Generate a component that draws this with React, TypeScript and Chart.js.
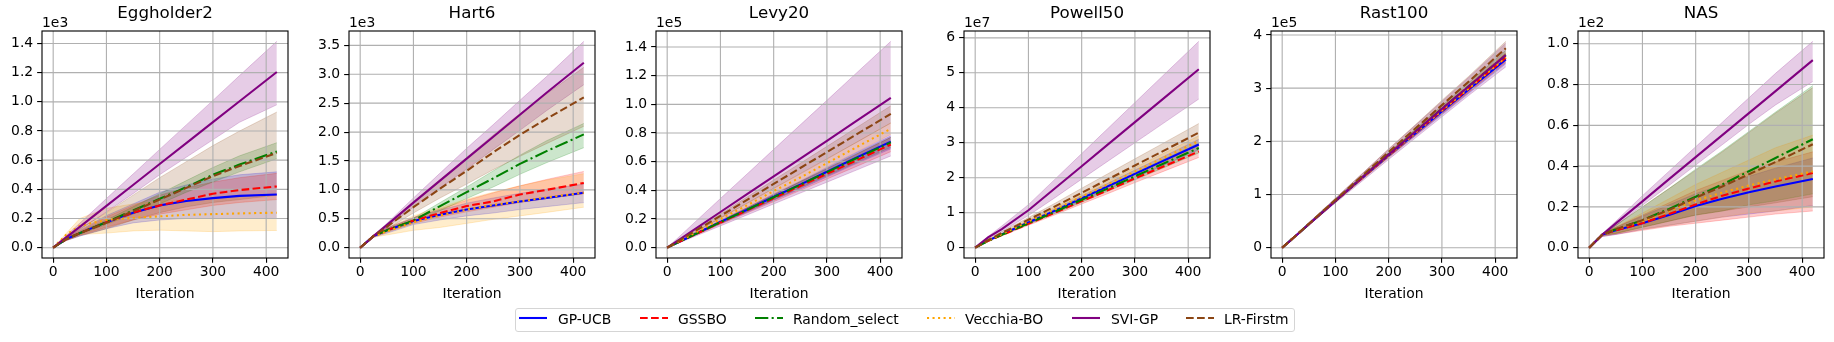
import React, { useEffect, useRef } from "react";
import { Chart, registerables } from "chart.js";

Chart.register(...registerables);

const FONT_FAMILY = "'DejaVu Sans', 'Liberation Sans', sans-serif";

// ---------------- data ----------------
const iterations = [0, 25, 50, 100, 150, 200, 250, 300, 350, 420];
const methodNames = ["GP-UCB", "GSSBO", "Random_select", "Vecchia-BO", "SVI-GP", "LR-Firstm"];
const xTickValues = [0, 100, 200, 300, 400];
const xTickLabels = ["0", "100", "200", "300", "400"];

// Eggholder2 (x1e3), rows in methodNames order
const eggholderTicks = [0, 0.2, 0.4, 0.6, 0.8, 1.0, 1.2, 1.4];
const eggholderTickLabels = ["0.0", "0.2", "0.4", "0.6", "0.8", "1.0", "1.2", "1.4"];
const eggholderMean = [
  [0, 0.06, 0.1, 0.175, 0.24, 0.29, 0.32, 0.34, 0.355, 0.365],
  [0, 0.06, 0.1, 0.175, 0.24, 0.29, 0.33, 0.37, 0.395, 0.42],
  [0, 0.06, 0.1, 0.175, 0.255, 0.335, 0.415, 0.5, 0.57, 0.66],
  [0, 0.09, 0.15, 0.19, 0.205, 0.215, 0.225, 0.23, 0.235, 0.24],
  [0, 0.072, 0.143, 0.287, 0.43, 0.574, 0.717, 0.861, 1.004, 1.205],
  [0, 0.06, 0.1, 0.17, 0.25, 0.33, 0.41, 0.49, 0.56, 0.65],
];
const eggholderLower = [
  [0, 0.05, 0.08, 0.13, 0.17, 0.19, 0.2, 0.2, 0.2, 0.2],
  [0, 0.05, 0.085, 0.14, 0.19, 0.23, 0.26, 0.29, 0.31, 0.33],
  [0, 0.055, 0.09, 0.16, 0.23, 0.3, 0.38, 0.45, 0.52, 0.61],
  [0, 0.05, 0.09, 0.1, 0.115, 0.12, 0.115, 0.11, 0.115, 0.118],
  [0, 0.065, 0.125, 0.245, 0.37, 0.5, 0.62, 0.74, 0.86, 0.98],
  [0, 0.05, 0.08, 0.13, 0.19, 0.24, 0.28, 0.31, 0.33, 0.36],
];
const eggholderUpper = [
  [0, 0.07, 0.12, 0.22, 0.3, 0.38, 0.43, 0.47, 0.5, 0.52],
  [0, 0.07, 0.115, 0.21, 0.29, 0.36, 0.41, 0.45, 0.48, 0.51],
  [0, 0.065, 0.11, 0.19, 0.28, 0.37, 0.46, 0.55, 0.63, 0.72],
  [0, 0.1, 0.2, 0.27, 0.3, 0.32, 0.33, 0.34, 0.35, 0.36],
  [0, 0.085, 0.168, 0.337, 0.505, 0.674, 0.842, 1.01, 1.18, 1.415],
  [0, 0.07, 0.13, 0.24, 0.36, 0.48, 0.59, 0.7, 0.8, 0.93],
];

// Hart6 (x1e3)
const hartTicks = [0, 0.5, 1.0, 1.5, 2.0, 2.5, 3.0, 3.5];
const hartTickLabels = ["0.0", "0.5", "1.0", "1.5", "2.0", "2.5", "3.0", "3.5"];
const hartMean = [
  [0, 0.2, 0.3, 0.46, 0.57, 0.66, 0.73, 0.8, 0.86, 0.95],
  [0, 0.2, 0.3, 0.47, 0.6, 0.72, 0.8, 0.92, 1.0, 1.12],
  [0, 0.2, 0.3, 0.47, 0.72, 0.96, 1.2, 1.45, 1.67, 1.96],
  [0, 0.2, 0.28, 0.44, 0.56, 0.66, 0.74, 0.8, 0.87, 0.95],
  [0, 0.2, 0.39, 0.78, 1.16, 1.54, 1.92, 2.3, 2.68, 3.2],
  [0, 0.2, 0.36, 0.7, 1.02, 1.33, 1.65, 1.95, 2.23, 2.6],
];
const hartLower = [
  [0, 0.18, 0.25, 0.4, 0.48, 0.55, 0.6, 0.66, 0.71, 0.78],
  [0, 0.18, 0.27, 0.42, 0.53, 0.62, 0.7, 0.78, 0.85, 0.93],
  [0, 0.19, 0.28, 0.43, 0.64, 0.85, 1.05, 1.27, 1.47, 1.73],
  [0, 0.18, 0.22, 0.3, 0.35, 0.42, 0.49, 0.55, 0.61, 0.7],
  [0, 0.19, 0.35, 0.7, 1.03, 1.36, 1.7, 2.03, 2.37, 2.82],
  [0, 0.19, 0.32, 0.6, 0.86, 1.1, 1.35, 1.58, 1.8, 2.1],
];
const hartUpper = [
  [0, 0.22, 0.34, 0.52, 0.65, 0.77, 0.86, 0.94, 1.01, 1.1],
  [0, 0.22, 0.33, 0.52, 0.67, 0.82, 0.95, 1.07, 1.18, 1.32],
  [0, 0.21, 0.32, 0.51, 0.78, 1.05, 1.33, 1.6, 1.85, 2.15],
  [0, 0.22, 0.34, 0.55, 0.7, 0.84, 0.96, 1.07, 1.17, 1.28],
  [0, 0.21, 0.42, 0.86, 1.29, 1.72, 2.13, 2.55, 2.96, 3.57],
  [0, 0.21, 0.4, 0.8, 1.18, 1.56, 1.95, 2.32, 2.66, 3.12],
];

// Levy20 (x1e5)
const levyTicks = [0, 0.2, 0.4, 0.6, 0.8, 1.0, 1.2, 1.4];
const levyTickLabels = ["0.0", "0.2", "0.4", "0.6", "0.8", "1.0", "1.2", "1.4"];
const levyMean = [
  [0, 0.045, 0.09, 0.18, 0.265, 0.355, 0.44, 0.53, 0.62, 0.74],
  [0, 0.045, 0.088, 0.175, 0.26, 0.345, 0.43, 0.515, 0.6, 0.72],
  [0, 0.045, 0.09, 0.178, 0.265, 0.352, 0.44, 0.527, 0.615, 0.735],
  [0, 0.05, 0.1, 0.2, 0.295, 0.395, 0.49, 0.59, 0.69, 0.83],
  [0, 0.062, 0.124, 0.249, 0.373, 0.498, 0.622, 0.746, 0.871, 1.045],
  [0, 0.055, 0.111, 0.222, 0.333, 0.445, 0.556, 0.667, 0.778, 0.934],
];
const levyLower = [
  [0, 0.042, 0.084, 0.168, 0.247, 0.331, 0.41, 0.494, 0.578, 0.69],
  [0, 0.042, 0.082, 0.163, 0.242, 0.321, 0.4, 0.479, 0.558, 0.67],
  [0, 0.043, 0.086, 0.169, 0.252, 0.335, 0.419, 0.502, 0.585, 0.7],
  [0, 0.048, 0.095, 0.19, 0.281, 0.376, 0.466, 0.562, 0.657, 0.79],
  [0, 0.038, 0.076, 0.152, 0.228, 0.305, 0.381, 0.457, 0.533, 0.64],
  [0, 0.051, 0.103, 0.206, 0.31, 0.414, 0.517, 0.62, 0.724, 0.87],
];
const levyUpper = [
  [0, 0.047, 0.095, 0.19, 0.279, 0.374, 0.464, 0.559, 0.654, 0.78],
  [0, 0.048, 0.094, 0.187, 0.278, 0.369, 0.46, 0.551, 0.642, 0.77],
  [0, 0.047, 0.094, 0.187, 0.278, 0.369, 0.461, 0.552, 0.645, 0.77],
  [0, 0.052, 0.105, 0.21, 0.309, 0.414, 0.514, 0.618, 0.723, 0.87],
  [0, 0.085, 0.171, 0.343, 0.514, 0.686, 0.857, 1.028, 1.2, 1.44],
  [0, 0.058, 0.118, 0.235, 0.353, 0.472, 0.589, 0.707, 0.825, 0.99],
];

// Powell50 (x1e7)
const powellTicks = [0, 1, 2, 3, 4, 5, 6];
const powellTickLabels = ["0", "1", "2", "3", "4", "5", "6"];
const powellMean = [
  [0, 0.21, 0.38, 0.72, 1.06, 1.41, 1.76, 2.11, 2.46, 2.95],
  [0, 0.2, 0.36, 0.68, 1.0, 1.33, 1.65, 1.98, 2.3, 2.75],
  [0, 0.2, 0.37, 0.7, 1.03, 1.37, 1.7, 2.04, 2.38, 2.85],
  [0, 0.21, 0.39, 0.75, 1.1, 1.46, 1.82, 2.18, 2.54, 3.05],
  [0, 0.3, 0.53, 1.07, 1.7, 2.33, 2.96, 3.59, 4.22, 5.1],
  [0, 0.22, 0.42, 0.8, 1.18, 1.57, 1.96, 2.35, 2.74, 3.29],
];
const powellLower = [
  [0, 0.2, 0.36, 0.68, 1.0, 1.34, 1.67, 2.0, 2.33, 2.8],
  [0, 0.19, 0.34, 0.64, 0.94, 1.25, 1.55, 1.86, 2.16, 2.58],
  [0, 0.19, 0.35, 0.67, 0.98, 1.3, 1.62, 1.94, 2.26, 2.71],
  [0, 0.2, 0.37, 0.71, 1.05, 1.39, 1.73, 2.07, 2.41, 2.9],
  [0, 0.27, 0.46, 0.92, 1.43, 1.96, 2.48, 3.0, 3.52, 4.25],
  [0, 0.2, 0.38, 0.72, 1.06, 1.41, 1.76, 2.11, 2.47, 2.96],
];
const powellUpper = [
  [0, 0.22, 0.4, 0.76, 1.11, 1.48, 1.85, 2.22, 2.58, 3.1],
  [0, 0.21, 0.38, 0.72, 1.06, 1.41, 1.75, 2.1, 2.44, 2.92],
  [0, 0.21, 0.39, 0.74, 1.08, 1.44, 1.79, 2.14, 2.5, 2.99],
  [0, 0.22, 0.41, 0.79, 1.16, 1.53, 1.91, 2.29, 2.67, 3.2],
  [0, 0.33, 0.62, 1.23, 1.96, 2.69, 3.42, 4.15, 4.88, 5.9],
  [0, 0.24, 0.45, 0.86, 1.27, 1.7, 2.12, 2.54, 2.96, 3.55],
];

// Rast100 (x1e5)
const rastTicks = [0, 1, 2, 3, 4];
const rastTickLabels = ["0", "1", "2", "3", "4"];
const rastMean = [
  [0, 0.22, 0.44, 0.88, 1.31, 1.74, 2.15, 2.56, 2.97, 3.54],
  [0, 0.22, 0.44, 0.88, 1.31, 1.74, 2.16, 2.58, 2.99, 3.57],
  [0, 0.22, 0.44, 0.88, 1.32, 1.75, 2.18, 2.61, 3.03, 3.62],
  [0, 0.22, 0.44, 0.88, 1.31, 1.74, 2.16, 2.58, 2.99, 3.58],
  [0, 0.22, 0.44, 0.88, 1.32, 1.75, 2.18, 2.61, 3.03, 3.62],
  [0, 0.22, 0.45, 0.9, 1.35, 1.8, 2.24, 2.68, 3.12, 3.75],
];
const rastLower = [
  [0, 0.21, 0.43, 0.86, 1.28, 1.7, 2.1, 2.5, 2.9, 3.46],
  [0, 0.21, 0.43, 0.86, 1.28, 1.7, 2.11, 2.52, 2.92, 3.48],
  [0, 0.21, 0.43, 0.86, 1.29, 1.71, 2.13, 2.55, 2.96, 3.53],
  [0, 0.21, 0.43, 0.86, 1.28, 1.7, 2.11, 2.52, 2.92, 3.5],
  [0, 0.21, 0.42, 0.84, 1.25, 1.66, 2.06, 2.46, 2.86, 3.4],
  [0, 0.21, 0.43, 0.87, 1.31, 1.75, 2.18, 2.61, 3.04, 3.64],
];
const rastUpper = [
  [0, 0.23, 0.45, 0.9, 1.34, 1.78, 2.2, 2.62, 3.04, 3.62],
  [0, 0.23, 0.45, 0.9, 1.34, 1.78, 2.21, 2.64, 3.06, 3.66],
  [0, 0.23, 0.45, 0.9, 1.35, 1.79, 2.23, 2.67, 3.1, 3.71],
  [0, 0.23, 0.45, 0.9, 1.34, 1.78, 2.21, 2.64, 3.06, 3.66],
  [0, 0.23, 0.47, 0.93, 1.39, 1.85, 2.3, 2.75, 3.2, 3.85],
  [0, 0.23, 0.47, 0.93, 1.39, 1.86, 2.31, 2.77, 3.22, 3.88],
];

// NAS (x1e2)
const nasTicks = [0, 0.2, 0.4, 0.6, 0.8, 1.0];
const nasTickLabels = ["0.0", "0.2", "0.4", "0.6", "0.8", "1.0"];
const nasMean = [
  [0, 0.065, 0.085, 0.12, 0.16, 0.204, 0.24, 0.272, 0.3, 0.337],
  [0, 0.065, 0.085, 0.12, 0.165, 0.212, 0.255, 0.29, 0.325, 0.366],
  [0, 0.065, 0.09, 0.135, 0.19, 0.25, 0.31, 0.375, 0.44, 0.532],
  [0, 0.065, 0.09, 0.13, 0.18, 0.232, 0.27, 0.305, 0.335, 0.374],
  [0, 0.065, 0.119, 0.227, 0.336, 0.444, 0.552, 0.66, 0.768, 0.92],
  [0, 0.065, 0.09, 0.135, 0.185, 0.245, 0.3, 0.36, 0.42, 0.507],
];
const nasLower = [
  [0, 0.055, 0.065, 0.09, 0.11, 0.13, 0.15, 0.165, 0.18, 0.207],
  [0, 0.055, 0.065, 0.085, 0.105, 0.12, 0.135, 0.15, 0.165, 0.18],
  [0, 0.06, 0.07, 0.1, 0.13, 0.16, 0.18, 0.21, 0.23, 0.264],
  [0, 0.06, 0.07, 0.09, 0.11, 0.13, 0.15, 0.17, 0.18, 0.2],
  [0, 0.06, 0.108, 0.208, 0.305, 0.405, 0.505, 0.605, 0.7, 0.815],
  [0, 0.06, 0.07, 0.1, 0.13, 0.16, 0.18, 0.2, 0.22, 0.25],
];
const nasUpper = [
  [0, 0.07, 0.1, 0.155, 0.21, 0.265, 0.31, 0.35, 0.39, 0.44],
  [0, 0.07, 0.1, 0.16, 0.22, 0.28, 0.33, 0.38, 0.42, 0.47],
  [0, 0.07, 0.11, 0.2, 0.29, 0.385, 0.475, 0.57, 0.665, 0.795],
  [0, 0.07, 0.1, 0.17, 0.24, 0.31, 0.37, 0.43, 0.49, 0.552],
  [0, 0.07, 0.13, 0.255, 0.375, 0.495, 0.615, 0.735, 0.855, 1.012],
  [0, 0.07, 0.11, 0.2, 0.29, 0.38, 0.47, 0.565, 0.66, 0.785],
];

// ---------------- styles / layout ----------------
const METHOD_COLORS = ["#0000ff", "#ff0000", "#008000", "#ffa500", "#800080", "#8b4513"];
const METHOD_DASHES = [[], [7.7, 3.33], [13.3, 3.33, 2.08, 3.33], [2.08, 3.44], [], [7.7, 3.33]];
const LINE_W = 2.08;
const TICK_FONT = 13.9;
const TITLE_FONT = 16.7;

const AXES_WIDTH = 246;
const Y_AXIS_W = 42;
const RIGHT_PAD = 14;
const CANVAS_H = 310;
const TITLE_BLOCK = 31;
const X_AXIS_H = CANVAS_H - 258;

const panels = [
  { title: "Eggholder2", exponent: "1e3", ticks: eggholderTicks, tickLabels: eggholderTickLabels, mean: eggholderMean, lower: eggholderLower, upper: eggholderUpper },
  { title: "Hart6", exponent: "1e3", ticks: hartTicks, tickLabels: hartTickLabels, mean: hartMean, lower: hartLower, upper: hartUpper },
  { title: "Levy20", exponent: "1e5", ticks: levyTicks, tickLabels: levyTickLabels, mean: levyMean, lower: levyLower, upper: levyUpper },
  { title: "Powell50", exponent: "1e7", ticks: powellTicks, tickLabels: powellTickLabels, mean: powellMean, lower: powellLower, upper: powellUpper },
  { title: "Rast100", exponent: "1e5", ticks: rastTicks, tickLabels: rastTickLabels, mean: rastMean, lower: rastLower, upper: rastUpper },
  { title: "NAS", exponent: "1e2", ticks: nasTicks, tickLabels: nasTickLabels, mean: nasMean, lower: nasLower, upper: nasUpper },
];

function rgba(hex: string, a: number) {
  const n = parseInt(hex.slice(1), 16);
  return `rgba(${(n >> 16) & 255},${(n >> 8) & 255},${n & 255},${a})`;
}

const decorPlugin = {
  id: "mplDecor",
  beforeDatasetDraw(chart: any, args: any) {
    const ds = chart.data.datasets[args.index];
    if (!ds || !ds.gridBefore) return;
    const { ctx, chartArea } = chart;
    const { left, right, top, bottom } = chartArea;
    const xs = chart.scales.x;
    const ys = chart.scales.y;
    ctx.save();
    ctx.strokeStyle = "#b0b0b0";
    ctx.lineWidth = 1.11;
    ctx.beginPath();
    xs.ticks.forEach((t: any) => {
      const p = xs.getPixelForValue(t.value);
      ctx.moveTo(p, top);
      ctx.lineTo(p, bottom);
    });
    ys.ticks.forEach((t: any) => {
      const p = ys.getPixelForValue(t.value);
      ctx.moveTo(left, p);
      ctx.lineTo(right, p);
    });
    ctx.stroke();
    ctx.restore();
  },
  afterDatasetsDraw(chart: any, _args: any, opts: any) {
    const { ctx, chartArea } = chart;
    const { left, right, top, bottom } = chartArea;
    ctx.save();
    ctx.strokeStyle = "#000";
    ctx.lineWidth = 1.11;
    ctx.strokeRect(left, top, right - left, bottom - top);
    ctx.fillStyle = "#000";
    ctx.font = `${TICK_FONT}px ${FONT_FAMILY}`;
    ctx.textAlign = "left";
    ctx.textBaseline = "alphabetic";
    ctx.fillText(opts.exponent, left, top - 4.3);
    ctx.restore();
  },
};

function Panel({ spec, x }: { spec: any; x: number }) {
  const ref = useRef<HTMLCanvasElement>(null);
  useEffect(() => {
    const canvas = ref.current;
    if (!canvas) return;
    const datasets: any[] = [];
    spec.mean.forEach((_: any, m: number) => {
      const c = METHOD_COLORS[m];
      datasets.push({
        data: iterations.map((it, i) => ({ x: it, y: spec.lower[m][i] })),
        borderColor: rgba(c, 0.2),
        backgroundColor: "transparent",
        borderWidth: 1,
        pointRadius: 0,
        fill: false,
        tension: 0,
      });
      datasets.push({
        data: iterations.map((it, i) => ({ x: it, y: spec.upper[m][i] })),
        borderColor: rgba(c, 0.2),
        backgroundColor: rgba(c, 0.2),
        borderWidth: 1,
        pointRadius: 0,
        fill: "-1",
        tension: 0,
      });
    });
    spec.mean.forEach((row: number[], m: number) => {
      datasets.push({
        label: methodNames[m],
        data: iterations.map((it, i) => ({ x: it, y: row[i] })),
        borderColor: METHOD_COLORS[m],
        backgroundColor: METHOD_COLORS[m],
        borderWidth: LINE_W,
        borderDash: METHOD_DASHES[m],
        borderCapStyle: "butt",
        borderJoinStyle: "round",
        pointRadius: 0,
        fill: false,
        tension: 0,
        gridBefore: m === 0,
      });
    });
    datasets.forEach((d, i) => (d.order = datasets.length - i));

    const all = [...spec.mean.flat(), ...spec.lower.flat(), ...spec.upper.flat()];
    const lo = Math.min(...all);
    const hi = Math.max(...all);
    const pad = (hi - lo) * 0.05;
    const xlo = Math.min(...iterations);
    const xhi = Math.max(...iterations);
    const xpad = (xhi - xlo) * 0.05;

    const tickFont = { family: FONT_FAMILY, size: TICK_FONT };
    const chart = new Chart(canvas, {
      type: "line",
      data: { datasets },
      plugins: [decorPlugin],
      options: {
        animation: false,
        responsive: false,
        maintainAspectRatio: false,
        devicePixelRatio: 1,
        layout: { padding: { left: 0, right: RIGHT_PAD, top: 0, bottom: 0 } },
        plugins: {
          legend: { display: false },
          tooltip: { enabled: false },
          title: {
            display: true,
            text: spec.title,
            fullSize: false,
            color: "#000",
            font: { family: FONT_FAMILY, size: TITLE_FONT, weight: "normal" },
            padding: { top: 3.3, bottom: TITLE_BLOCK - 3.3 - TITLE_FONT * 1.2 },
          },
          mplDecor: { exponent: spec.exponent },
        } as any,
        scales: {
          x: {
            type: "linear",
            min: xlo - xpad,
            max: xhi + xpad,
            afterBuildTicks: (s: any) => {
              s.ticks = xTickValues.map((v) => ({ value: v }));
            },
            afterFit: (s: any) => {
              s.height = X_AXIS_H;
            },
            grid: { drawOnChartArea: false, drawTicks: true, tickLength: 4.86, tickColor: "#000", lineWidth: 1.11, color: "#000" },
            border: { display: false },
            ticks: {
              color: "#000",
              font: tickFont,
              padding: 1.5,
              maxRotation: 0,
              autoSkip: false,
              callback: (_v: any, i: number) => xTickLabels[i],
            },
            title: {
              display: true,
              text: "Iteration",
              color: "#000",
              font: tickFont,
              padding: { top: 0, bottom: 7.46 },
            },
          },
          y: {
            type: "linear",
            min: lo - pad,
            max: hi + pad,
            afterBuildTicks: (s: any) => {
              s.ticks = spec.ticks.map((v: number) => ({ value: v }));
            },
            afterFit: (s: any) => {
              s.width = Y_AXIS_W;
            },
            grid: { drawOnChartArea: false, drawTicks: true, tickLength: 4.86, tickColor: "#000", lineWidth: 1.11, color: "#000" },
            border: { display: false },
            ticks: {
              color: "#000",
              font: tickFont,
              padding: 4,
              autoSkip: false,
              callback: (_v: any, i: number) => spec.tickLabels[i],
            },
          },
        },
      } as any,
    });
    return () => chart.destroy();
  }, [spec]);

  const w = Y_AXIS_W + AXES_WIDTH + RIGHT_PAD;
  return (
    <canvas
      ref={ref}
      width={w}
      height={CANVAS_H}
      style={{ position: "absolute", left: x, top: 0, width: w, height: CANVAS_H }}
    />
  );
}

const LEGEND_HANDLE_X = [519, 640, 755, 927, 1072, 1186];
const LEGEND_TEXT_X = [558, 678, 793, 965, 1111, 1224];

function Legend() {
  return (
    <>
      <div
        style={{
          position: "absolute",
          left: 515,
          top: 308,
          width: 780,
          height: 24,
          boxSizing: "border-box",
          border: "1px solid #d5d5d5",
          borderRadius: 3,
          background: "rgba(255,255,255,0.8)",
        }}
      />
      {methodNames.map((name, m) => (
        <React.Fragment key={name}>
          <svg
            width={30}
            height={10}
            style={{ position: "absolute", left: LEGEND_HANDLE_X[m], top: 313 }}
          >
            <line
              x1={0}
              y1={5}
              x2={28}
              y2={5}
              stroke={METHOD_COLORS[m]}
              strokeWidth={LINE_W}
              strokeDasharray={METHOD_DASHES[m].length ? METHOD_DASHES[m].join(" ") : undefined}
            />
          </svg>
          <span
            style={{
              position: "absolute",
              left: LEGEND_TEXT_X[m],
              top: 311,
              fontFamily: FONT_FAMILY,
              fontSize: TICK_FONT,
              lineHeight: "16px",
              color: "#000",
              whiteSpace: "nowrap",
            }}
          >
            {name}
          </span>
        </React.Fragment>
      ))}
    </>
  );
}

export default function App() {
  return (
    <div
      style={{
        position: "absolute",
        left: 0,
        top: 0,
        width: 1834,
        height: 342,
        background: "#fff",
        overflow: "hidden",
      }}
    >
      {panels.map((p, i) => (
        <Panel key={p.title} spec={p} x={Math.round(Y_AXIS_W + i * 307.2) - Y_AXIS_W} />
      ))}
      <Legend />
    </div>
  );
}
